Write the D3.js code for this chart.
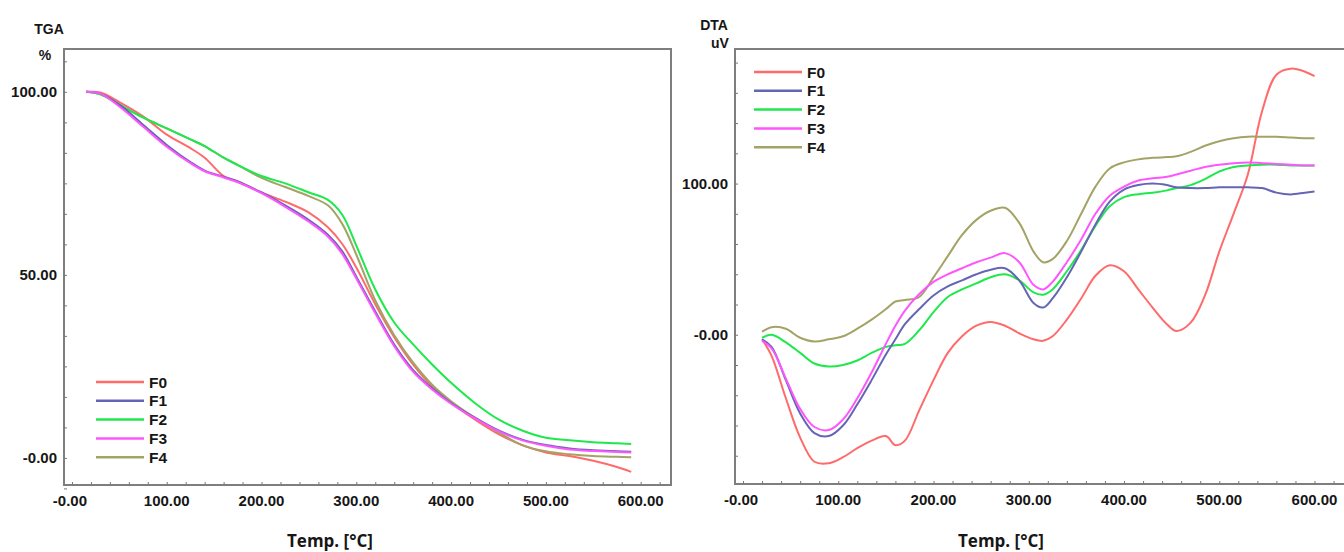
<!DOCTYPE html>
<html>
<head>
<meta charset="utf-8">
<script src="https://cdn.jsdelivr.net/npm/d3@7"></script>
<style>
  body { margin: 0; background: #fff; }
  svg { display: block; }
  .tick-lab { font-family: "Liberation Sans", Arial, sans-serif; font-weight: bold; font-size: 15px; fill: #161616; }
  .ttl { font-family: "Liberation Sans", Arial, sans-serif; font-weight: bold; font-size: 14px; fill: #161616; }
  .xlab { font-family: "Open Sans", "Noto Sans", sans-serif; font-weight: 700; font-size: 17px; fill: #161616; }
  .leg { font-family: "Liberation Sans", Arial, sans-serif; font-weight: bold; font-size: 15.5px; fill: #161616; }
</style>
</head>
<body>
<script>
// series names and colours
var seriesNames = ["F0", "F1", "F2", "F3", "F4"];
var seriesColors = ["#ff6a6a", "#6565b5", "#1ee84c", "#ff55ff", "#a3a366"];

// TGA (%)
var tgaTemps = [15, 30, 50, 75, 100, 125, 140, 160, 175, 200, 225, 250, 270, 285, 300, 320, 340, 360, 380, 400, 425, 450, 475, 500, 525, 550, 575, 590];
var tgaF0 = [100, 99.8, 97.2, 93.3, 88.3, 84.6, 82, 77, 75.5, 72.5, 70, 67, 63, 58.5, 52, 42, 33, 25.5, 19.5, 15, 10.5, 6.5, 3.5, 1.5, 0.5, -0.8, -2.5, -3.8];
var tgaF1 = [100, 99.5, 96.5, 91, 85.5, 80.8, 78.5, 76.8, 75.5, 72.5, 69, 65, 61, 56.5, 49.5, 40, 31, 24, 19, 15, 11, 7.5, 5, 3.5, 2.6, 2.1, 1.8, 1.7];
var tgaF2 = [100, 99.3, 96.5, 93, 90, 87, 85.2, 82, 80, 77, 75, 72.5, 70.5, 66.5, 58, 46, 37, 31, 25.5, 20.5, 15, 10.5, 7.5, 5.5, 4.8, 4.3, 4, 3.8];
var tgaF3 = [100, 99.5, 96, 90.5, 85, 80.5, 78.3, 76.6, 75.3, 72.3, 68.6, 64.5, 60.5, 55.8, 49, 39.5, 30.5, 23.5, 18.7, 14.8, 10.8, 7.3, 4.8, 3.3, 2.3, 1.9, 1.6, 1.5];
var tgaF4 = [100, 99.3, 96.5, 93, 90, 87, 85.2, 82, 80, 76.5, 74, 71.5, 69, 64, 55.5, 43, 33.5, 26, 20, 15.5, 11, 7, 3.5, 1.8, 1, 0.5, 0.3, 0.2];

// DTA (uV)
var dtaTemps = [20, 30, 45, 60, 75, 90, 105, 120, 135, 150, 160, 170, 185, 200, 215, 230, 245, 260, 275, 290, 305, 315, 325, 340, 355, 370, 385, 400, 415, 430, 445, 455, 470, 485, 500, 515, 530, 545, 560, 575, 590, 600];
var dtaF0 = [-3, -14, -42, -68, -84, -85, -81, -75, -70, -67, -73, -70, -50, -30, -12, -1, 6, 8.5, 6, 1, -3, -4, -1, 10, 24, 39, 46, 42, 30, 18, 7, 2.5, 8, 26, 55, 80, 106, 148, 172, 176, 174, 171];
var dtaF1 = [-3, -8, -30, -52, -65, -67, -60, -46, -30, -13, -3, 7, 17, 26, 32, 36, 40, 43, 44, 36, 21, 18, 24, 38, 55, 73, 88, 96, 99, 100, 99, 97.5, 97, 97, 97.5, 97.5, 97.5, 97, 94, 92.8, 94, 94.7];
var dtaF2 = [-2, 0, -5, -12, -19, -21, -20, -17, -12, -8, -7, -6, 3, 15, 25, 30, 34, 38, 40, 36, 28, 26.5, 30, 42, 56, 72, 85, 91, 93, 94, 95.5, 97, 99, 103, 108, 111, 112, 112.5, 112.5, 112, 112, 112];
var dtaF3 = [-4, -9, -29, -49, -61, -63, -56, -42, -25, -6, 6, 16, 27, 35, 40, 44, 48, 51, 54, 48, 33, 30, 35, 48, 63, 80, 92, 98, 102, 103.5, 104.5, 106, 108.5, 111, 112.5, 113.5, 114, 113.5, 113, 112.5, 112, 112];
var dtaF4 = [2, 5, 4, -2, -4.5, -3, -1, 4, 10, 17, 22, 23, 25, 38, 52, 66, 76, 82, 84, 74, 55, 48, 50, 62, 80, 98, 110, 114, 116, 117, 117.5, 118, 121, 125, 128, 130, 131, 131, 131, 130.5, 130, 130];

// tick labels
var xTicks = [0, 100, 200, 300, 400, 500, 600];
var xTickLabels = ["-0.00", "100.00", "200.00", "300.00", "400.00", "500.00", "600.00"];
var tgaYTicks = [0, 50, 100];
var tgaYTickLabels = ["-0.00", "50.00", "100.00"];
var dtaYTicks = [0, 100];
var dtaYTickLabels = ["-0.00", "100.00"];

var W = 1344, H = 552;
var svg = d3.select("body").append("svg").attr("width", W).attr("height", H);

function drawPanel(p) {
  var x = d3.scaleLinear().domain([-8.4, 632]).range([p.left, p.right]);
  var y = d3.scaleLinear().domain(p.yDomain).range([p.bottom, p.top]);
  var g = svg.append("g");

  // frame
  g.append("rect")
    .attr("x", p.left).attr("y", p.top)
    .attr("width", p.right - p.left).attr("height", p.bottom - p.top)
    .attr("fill", "none").attr("stroke", "#7e7e7e").attr("stroke-width", 2);

  // minor ticks, pointing inward
  var xa = g.append("g").attr("transform", "translate(0," + p.bottom + ")")
    .call(d3.axisBottom(x).tickValues(d3.range(0, 621, 20)).tickSize(-3).tickFormat(""));
  xa.select(".domain").remove();
  xa.selectAll("line").attr("stroke", "#777");
  var ya = g.append("g").attr("transform", "translate(" + p.left + ",0)")
    .call(d3.axisLeft(y).tickValues(p.yMinor).tickSize(-3).tickFormat(""));
  ya.select(".domain").remove();
  ya.selectAll("line").attr("stroke", "#777");

  // tick labels
  g.selectAll(".xl").data(xTicks).enter().append("text")
    .attr("class", "tick-lab")
    .attr("x", function(d) { return x(d) + (d === 0 ? -2 : 0); })
    .attr("y", p.bottom + 21)
    .attr("text-anchor", "middle")
    .text(function(d, i) { return xTickLabels[i]; });
  g.selectAll(".yl").data(p.yTicks).enter().append("text")
    .attr("class", "tick-lab")
    .attr("x", p.left - 7)
    .attr("y", function(d) { return y(d) + 5; })
    .attr("text-anchor", "end")
    .text(function(d, i) { return p.yTickLabels[i]; });

  // titles
  g.append("text").attr("class", "ttl").attr("x", p.titleX).attr("y", p.titleY).attr("text-anchor", "middle").text(p.title);
  g.append("text").attr("class", "ttl").attr("x", p.unitX).attr("y", p.unitY).attr("text-anchor", "middle").text(p.unit);
  g.append("text").attr("class", "xlab").attr("x", p.xLabX).attr("y", 547).attr("text-anchor", "middle").text("Temp. [°C]");

  // curves
  var line = d3.line()
    .x(function(d) { return x(d[0]); })
    .y(function(d) { return y(d[1]); })
    .curve(d3.curveCatmullRom.alpha(0.5));
  var order = [0, 4, 2, 1, 3];
  order.forEach(function(i) {
    var pts = p.temps.map(function(t, k) { return [t, p.series[i][k]]; });
    g.append("path").datum(pts)
      .attr("d", line)
      .attr("fill", "none")
      .attr("stroke", seriesColors[i])
      .attr("stroke-width", 2);
  });

  // legend
  seriesNames.forEach(function(name, i) {
    var ly = p.legY + i * 18.8;
    g.append("line")
      .attr("x1", p.legX).attr("x2", p.legX + 48)
      .attr("y1", ly).attr("y2", ly)
      .attr("stroke", seriesColors[i]).attr("stroke-width", 2.5);
    g.append("text").attr("class", "leg")
      .attr("x", p.legX + 53).attr("y", ly + 5.5)
      .text(name);
  });
}

drawPanel({
  left: 64, right: 671, top: 49, bottom: 485,
  yDomain: [-7.4, 111.7],
  yMinor: d3.range(-1, 14).map(function(k) { return k * 50 / 6; }),
  yTicks: tgaYTicks, yTickLabels: tgaYTickLabels,
  title: "TGA", titleX: 49, titleY: 34,
  unit: "%", unitX: 45, unitY: 60,
  xLabX: 330,
  temps: tgaTemps,
  series: [tgaF0, tgaF1, tgaF2, tgaF3, tgaF4],
  legX: 96, legY: 382
});

drawPanel({
  left: 735, right: 1345, top: 49, bottom: 484,
  yDomain: [-98.7, 189],
  yMinor: d3.range(-80, 181, 20),
  yTicks: dtaYTicks, yTickLabels: dtaYTickLabels,
  title: "DTA", titleX: 714, titleY: 30,
  unit: "uV", unitX: 720, unitY: 48,
  xLabX: 1001,
  temps: dtaTemps,
  series: [dtaF0, dtaF1, dtaF2, dtaF3, dtaF4],
  legX: 754, legY: 72
});
</script>
</body>
</html>
